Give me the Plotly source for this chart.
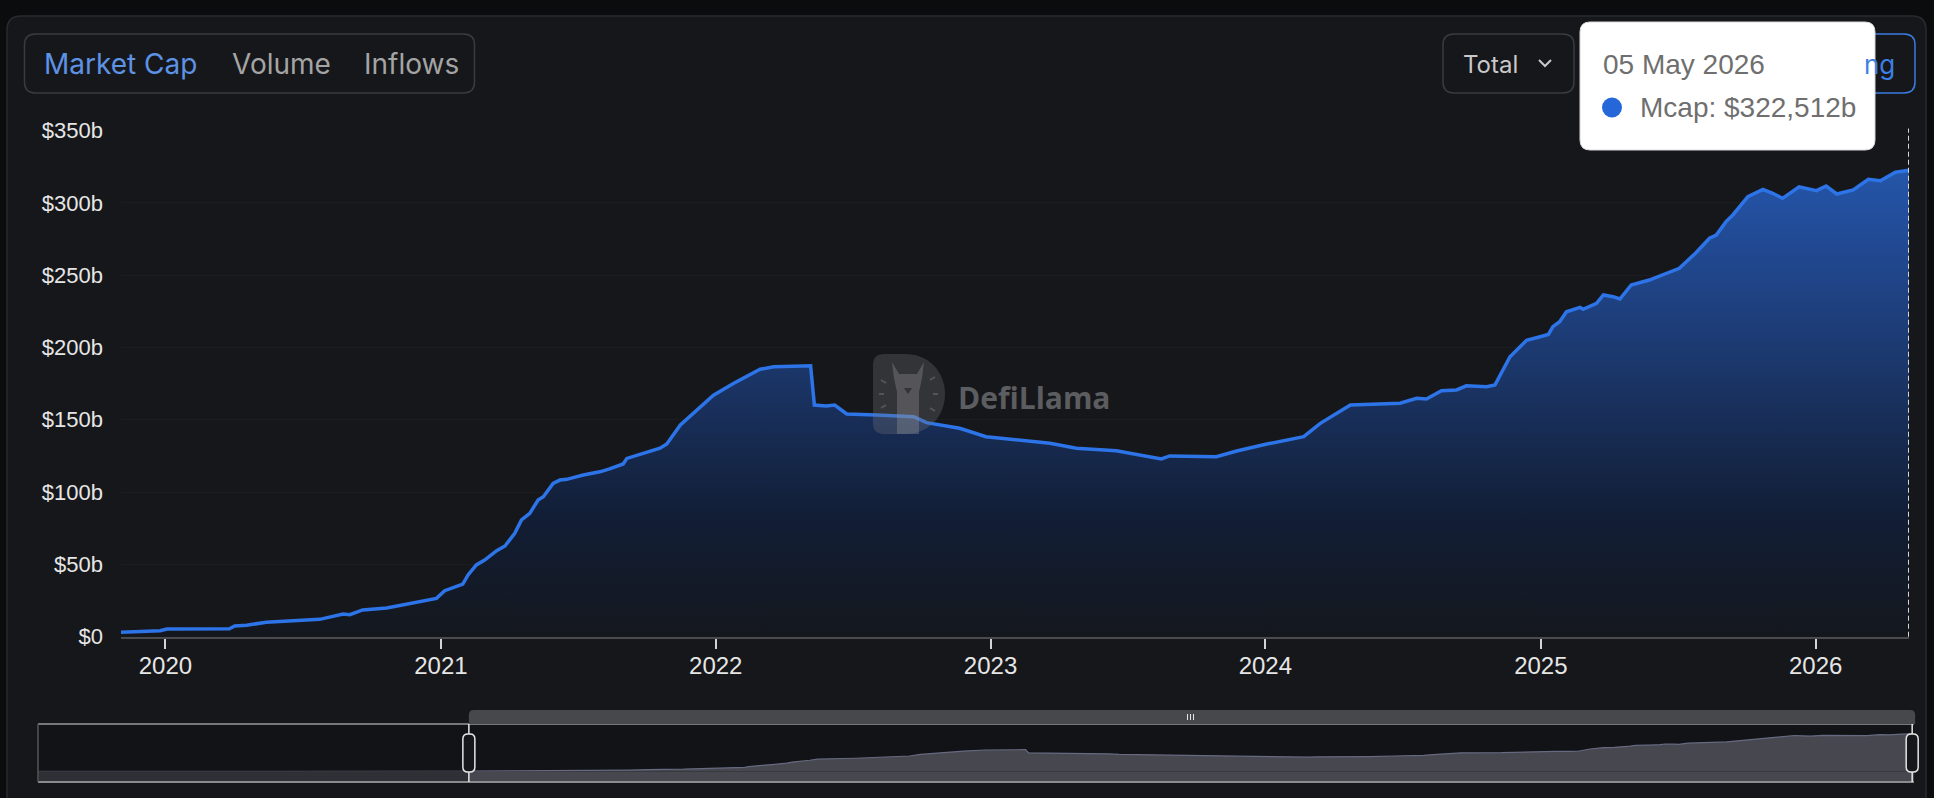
import plotly.graph_objects as go
import pandas as pd

W, H = 1934, 798

# ---------------- data (billions USD) ----------------
dates = [
    "2017-11-25", "2018-01-01", "2018-02-01", "2018-04-01", "2018-07-01", "2018-10-01",
    "2018-12-01", "2019-03-01", "2019-06-01", "2019-09-01",
    "2019-11-03", "2019-12-25", "2020-01-03", "2020-03-26", "2020-04-02", "2020-04-18",
    "2020-05-14", "2020-07-24", "2020-08-24", "2020-09-02", "2020-09-19", "2020-10-21",
    "2020-11-20", "2020-12-26", "2021-01-06", "2021-01-30", "2021-02-06", "2021-02-17",
    "2021-02-28", "2021-03-16", "2021-03-27", "2021-04-09", "2021-04-18", "2021-04-29",
    "2021-05-10", "2021-05-17", "2021-05-30", "2021-06-08", "2021-06-17", "2021-07-09",
    "2021-07-31", "2021-08-13", "2021-08-31", "2021-09-05", "2021-10-19", "2021-10-28",
    "2021-11-15", "2021-12-12", "2021-12-29", "2022-01-25", "2022-03-01", "2022-03-19",
    "2022-05-07", "2022-05-12", "2022-05-28", "2022-06-08", "2022-06-24", "2022-08-03",
    "2022-09-21", "2022-10-08", "2022-11-03", "2022-11-21", "2022-12-26", "2023-01-31",
    "2023-03-21", "2023-04-25", "2023-06-17", "2023-08-16", "2023-08-27", "2023-10-28",
    "2023-11-24", "2024-01-03", "2024-02-21", "2024-03-14", "2024-04-05", "2024-04-23",
    "2024-06-28", "2024-07-20", "2024-08-02", "2024-08-22", "2024-09-11", "2024-09-24",
    "2024-10-21", "2024-11-01", "2024-11-21", "2024-12-13", "2024-12-31", "2025-01-11",
    "2025-01-17", "2025-01-26", "2025-02-04", "2025-02-22", "2025-02-26", "2025-03-16",
    "2025-03-25", "2025-04-07", "2025-04-16", "2025-05-01", "2025-05-25", "2025-06-16",
    "2025-07-04", "2025-07-26", "2025-08-13", "2025-08-22", "2025-09-04", "2025-09-13",
    "2025-10-03", "2025-10-23", "2025-11-05", "2025-11-18", "2025-12-10", "2026-01-02",
    "2026-01-15", "2026-01-29", "2026-02-20", "2026-03-12", "2026-03-28", "2026-04-17",
    "2026-05-05",
]
mcap_b = [
    0.9, 1.4, 2.3, 2.6, 2.8, 2.9,
    2.4, 2.5, 2.8, 3.0,
    3.0, 4.1, 5.3, 5.5, 7.4, 7.9,
    10.0, 12.0, 15.7, 15.2, 18.5, 19.8,
    23.0, 26.5, 31.8, 36.4, 42.7, 49.6,
    53.0, 59.5, 62.7, 71.5, 80.7, 85.3,
    94.5, 96.8, 106.0, 108.3, 108.8, 111.8,
    114.0, 116.0, 119.4, 123.3, 130.3, 133.2,
    146.4, 159.0, 167.0, 175.2, 184.9, 186.7,
    187.4, 160.2, 159.5, 160.2, 154.0, 153.3,
    152.1, 148.0, 145.7, 144.1, 138.3, 136.5,
    133.7, 130.3, 128.6, 122.9, 125.0, 124.5,
    128.4, 133.2, 138.3, 147.5, 154.5, 160.2,
    161.4, 164.8, 164.3, 170.0, 170.6, 173.5,
    172.9, 174.0, 193.6, 205.0, 207.4, 209.0,
    214.4, 217.8, 224.7, 227.7, 226.4, 230.5,
    236.3, 235.1, 233.5, 243.2, 246.6, 251.3,
    254.7, 265.5, 275.5, 277.7, 287.0, 291.6,
    304.2, 309.3, 306.6, 303.1, 311.1, 308.4,
    311.6, 306.1, 308.9, 316.3, 315.3, 321.1,
    322.512,
]
y_tick_values = [0, 50, 100, 150, 200, 250, 300, 350]
y_tick_labels = ["$0", "$50b", "$100b", "$150b", "$200b", "$250b", "$300b", "$350b"]
tab_labels = ["Market Cap", "Volume", "Inflows"]
dropdown_label = "Total"
series_label = "Mcap"
brand = "DefiLlama"
view_start = "2019-11-03"   # brush selection start
mini_range = ["2017-11-24", "2026-05-08"]

# ---------------- helpers (pixel -> paper) ----------------
def fx(p):
    return p / W

def fy(p):
    return 1 - p / H

def rr_path(x0, y0, x1, y1, r, top_only=False):
    X = lambda v: f"{fx(v):.6f}"
    Y = lambda v: f"{fy(v):.6f}"
    if top_only:
        return (f"M {X(x0)},{Y(y1)} L {X(x0)},{Y(y0+r)} Q {X(x0)},{Y(y0)} {X(x0+r)},{Y(y0)} "
                f"L {X(x1-r)},{Y(y0)} Q {X(x1)},{Y(y0)} {X(x1)},{Y(y0+r)} L {X(x1)},{Y(y1)} Z")
    return (f"M {X(x0+r)},{Y(y0)} L {X(x1-r)},{Y(y0)} Q {X(x1)},{Y(y0)} {X(x1)},{Y(y0+r)} "
            f"L {X(x1)},{Y(y1-r)} Q {X(x1)},{Y(y1)} {X(x1-r)},{Y(y1)} L {X(x0+r)},{Y(y1)} "
            f"Q {X(x0)},{Y(y1)} {X(x0)},{Y(y1-r)} L {X(x0)},{Y(y0+r)} Q {X(x0)},{Y(y0)} {X(x0+r)},{Y(y0)} Z")

def poly_path(pts, close=True):
    s = "M " + " L ".join(f"{fx(x):.6f},{fy(y):.6f}" for x, y in pts)
    return s + (" Z" if close else "")

# layout geometry (pixels)
PL, PR, PT, PB = 121, 1909, 130.5, 636.7          # main plot
ML, MR, MT, MB = 38, 1914, 724, 782               # brush box

fig = go.Figure()

# main series
fig.add_trace(go.Scatter(
    x=dates, y=mcap_b, mode="lines", xaxis="x", yaxis="y",
    line=dict(color="#2d74e8", width=3.5),
    fill="tozeroy",
    fillgradient=dict(type="vertical", start=0, stop=max(mcap_b),
                      colorscale=[[0, "#14171d"], [0.26, "#121e36"], [0.47, "#182e58"],
                                  [0.65, "#1d3c76"], [0.93, "#2350a0"], [1, "#2556a8"]]),
    hoverinfo="skip", showlegend=False,
))
# brush shadow series
fig.add_trace(go.Scatter(
    x=dates, y=mcap_b, mode="lines", xaxis="x2", yaxis="y2",
    line=dict(color="#666a80", width=1.2),
    fill="tozeroy", fillcolor="#46474f",
    hoverinfo="skip", showlegend=False,
))

shapes = []
# card
shapes.append(dict(type="path", xref="paper", yref="paper", layer="below",
                   path=rr_path(7, 16, 1926, 860, 14),
                   fillcolor="#16171a", line=dict(color="#2a2b2f", width=1.5)))
# tab group box
shapes.append(dict(type="path", xref="paper", yref="paper", layer="below",
                   path=rr_path(24.5, 34, 474.5, 93, 11),
                   fillcolor="#16171a", line=dict(color="#3a3b40", width=1.5)))
# dropdown box
shapes.append(dict(type="path", xref="paper", yref="paper", layer="below",
                   path=rr_path(1443, 34, 1574, 93, 11),
                   fillcolor="#16171a", line=dict(color="#3a3b40", width=1.5)))
shapes.append(dict(type="path", xref="paper", yref="paper", layer="above",
                   path=poly_path([(1539, 60), (1545, 66), (1551, 60)], close=False),
                   line=dict(color="#c9c9c9", width=2)))
# blue button (partly hidden under tooltip)
shapes.append(dict(type="path", xref="paper", yref="paper", layer="above",
                   path=rr_path(1760, 34, 1915, 93, 11),
                   fillcolor="#16171a", line=dict(color="#3b7be0", width=1.5)))

# brush box background
shapes.append(dict(type="rect", xref="paper", yref="paper", layer="below",
                   x0=fx(ML), x1=fx(MR), y0=fy(MB), y1=fy(MT),
                   fillcolor="#121316", line=dict(width=0)))
# band below zero in brush
shapes.append(dict(type="rect", xref="x2", yref="y2", layer="above",
                   x0=dates[0], x1=mini_range[1], y0=-90, y1=0,
                   fillcolor="#46474f", line=dict(width=0)))

# pixel positions of brush handles from the axis mapping
t0, t1 = pd.Timestamp(mini_range[0]), pd.Timestamp(mini_range[1])
def mini_px(d):
    return ML + (pd.Timestamp(d) - t0) / (t1 - t0) * (MR - ML)
hL = mini_px(view_start)
hR = mini_px(dates[-1])

# unselected overlay
shapes.append(dict(type="rect", xref="paper", yref="paper", layer="above",
                   x0=fx(ML), x1=fx(hL), y0=fy(MB), y1=fy(MT),
                   fillcolor="rgba(18,19,22,0.45)", line=dict(width=0)))
# box borders
shapes.append(dict(type="line", xref="paper", yref="paper", layer="above",
                   x0=fx(ML), x1=fx(MR), y0=fy(MT), y1=fy(MT), line=dict(color="#76777b", width=2)))
shapes.append(dict(type="line", xref="paper", yref="paper", layer="above",
                   x0=fx(ML), x1=fx(MR), y0=fy(MB), y1=fy(MB), line=dict(color="#8a8b8f", width=2)))
shapes.append(dict(type="line", xref="paper", yref="paper", layer="above",
                   x0=fx(ML), x1=fx(ML), y0=fy(MB), y1=fy(MT), line=dict(color="#55565a", width=1.5)))
# top move bar
shapes.append(dict(type="path", xref="paper", yref="paper", layer="above",
                   path=rr_path(hL, 710, hR + 3, MT, 5, top_only=True),
                   fillcolor="#47484b", line=dict(width=0)))
cx = (hL + hR) / 2
for dx in (-3, 0, 3):
    shapes.append(dict(type="line", xref="paper", yref="paper", layer="above",
                       x0=fx(cx + dx), x1=fx(cx + dx), y0=fy(720), y1=fy(714),
                       line=dict(color="#e8e8e8", width=1)))
# handles
for hx in (hL, hR):
    shapes.append(dict(type="line", xref="paper", yref="paper", layer="above",
                       x0=fx(hx), x1=fx(hx), y0=fy(MB), y1=fy(MT),
                       line=dict(color="#e6e6e6", width=1.5)))
    shapes.append(dict(type="path", xref="paper", yref="paper", layer="above",
                       path=rr_path(hx - 6, 734, hx + 6, 772, 5),
                       fillcolor="#16171a", line=dict(color="#e6e6e6", width=1.5)))

# axis pointer (dashed) at last point
shapes.append(dict(type="line", xref="x", yref="paper", layer="above",
                   x0=dates[-1], x1=dates[-1], y0=fy(PB), y1=fy(PT - 2),
                   line=dict(color="#d6d6d6", width=2, dash="5px,3px")))

# watermark logo
shapes.append(dict(type="path", xref="paper", yref="paper", layer="above",
                   path=(f"M {fx(884):.6f},{fy(354):.6f} L {fx(905):.6f},{fy(354):.6f} "
                         f"C {fx(929):.6f},{fy(354):.6f} {fx(945):.6f},{fy(372):.6f} {fx(945):.6f},{fy(394):.6f} "
                         f"C {fx(945):.6f},{fy(416):.6f} {fx(929):.6f},{fy(434):.6f} {fx(905):.6f},{fy(434):.6f} "
                         f"L {fx(884):.6f},{fy(434):.6f} Q {fx(873):.6f},{fy(434):.6f} {fx(873):.6f},{fy(423):.6f} "
                         f"L {fx(873):.6f},{fy(365):.6f} Q {fx(873):.6f},{fy(354):.6f} {fx(884):.6f},{fy(354):.6f} Z"),
                   fillcolor="rgba(120,120,124,0.30)", line=dict(width=0)))
shapes.append(dict(type="path", xref="paper", yref="paper", layer="above",
                   path=poly_path([(892, 362), (899, 374), (917, 374), (924, 362), (922, 378),
                                   (919, 392), (919, 434), (897, 434), (897, 392), (894, 378)]),
                   fillcolor="rgba(150,150,154,0.35)", line=dict(width=0)))
shapes.append(dict(type="path", xref="paper", yref="paper", layer="above",
                   path=poly_path([(904, 388), (912, 388), (908, 394)]),
                   fillcolor="rgba(30,30,32,0.6)", line=dict(width=0)))
for (a, b, c, d) in [(881, 380, 886, 383), (879, 394, 884, 394), (881, 408, 886, 405),
                     (930, 380, 935, 377), (933, 394, 938, 394), (930, 408, 935, 411)]:
    shapes.append(dict(type="line", xref="paper", yref="paper", layer="above",
                       x0=fx(a), y0=fy(b), x1=fx(c), y1=fy(d),
                       line=dict(color="rgba(150,150,154,0.35)", width=2)))

# tooltip
shapes.append(dict(type="path", xref="paper", yref="paper", layer="above",
                   path=rr_path(1580, 22, 1875, 150, 10),
                   fillcolor="#ffffff", line=dict(color="#d8d8d8", width=1)))
shapes.append(dict(type="circle", xref="paper", yref="paper", layer="above",
                   x0=fx(1602), x1=fx(1622), y0=fy(117.5), y1=fy(97.5),
                   fillcolor="#2567d9", line=dict(width=0)))

annotations = []
tab_x = [42, 230, 362]
tab_col = ["#5d92e4", "#a4a4a4", "#a4a4a4"]
for lab, x, c in zip(tab_labels, tab_x, tab_col):
    annotations.append(dict(text=lab, x=fx(x), y=fy(64), xref="paper", yref="paper",
                            xanchor="left", yanchor="middle", showarrow=False,
                            font=dict(family="Inter", size=28, color=c)))
annotations.append(dict(text=dropdown_label, x=fx(1461), y=fy(64), xref="paper", yref="paper",
                        xanchor="left", yanchor="middle", showarrow=False,
                        font=dict(family="Inter", size=24, color="#c9c9c9")))
annotations.append(dict(text="ng", x=fx(1897), y=fy(64), xref="paper", yref="paper",
                        xanchor="right", yanchor="middle", showarrow=False,
                        font=dict(family="Inter", size=26, color="#3d7fe3")))
last_date = pd.Timestamp(dates[-1]).strftime("%d %b %Y")
last_val = f"{mcap_b[-1]:.3f}".replace(".", ",")
annotations.append(dict(text=last_date, x=fx(1601), y=fy(65), xref="paper", yref="paper",
                        xanchor="left", yanchor="middle", showarrow=False,
                        font=dict(family="Liberation Sans, Arial", size=28, color="#6f6f6f")))
annotations.append(dict(text=f"{series_label}: ${last_val}b", x=fx(1638), y=fy(107),
                        xref="paper", yref="paper", xanchor="left", yanchor="middle", showarrow=False,
                        font=dict(family="Liberation Sans, Arial", size=28, color="#6f6f6f")))
annotations.append(dict(text=f"<b>{brand}</b>", x=fx(956), y=fy(397), xref="paper", yref="paper",
                        xanchor="left", yanchor="middle", showarrow=False,
                        font=dict(family="Open Sans", size=30, color="#5c5d60")))

fig.update_layout(
    width=W, height=H, autosize=False,
    margin=dict(l=0, r=0, t=0, b=0, pad=0, autoexpand=False),
    paper_bgcolor="#0b0c0e", plot_bgcolor="rgba(0,0,0,0)",
    font=dict(family="Liberation Sans, Arial", color="#e6e6e6"),
    showlegend=False,
    xaxis=dict(domain=[fx(PL), fx(PR)], anchor="y", type="date", automargin=False,
               range=[view_start, dates[-1]],
               showgrid=False, zeroline=False,
               showline=True, linecolor="#4a4b4f", linewidth=2,
               ticks="outside", ticklen=10, tickwidth=2, tickcolor="#d4d4d4",
               dtick="M12", tick0="2020-01-01", tickformat="%Y",
               ticklabelstandoff=-4,
               tickfont=dict(size=24, color="#e6e6e6")),
    yaxis=dict(domain=[fy(PB), fy(PT)], anchor="x", range=[0, 350], automargin=False,
               tickvals=y_tick_values, ticktext=y_tick_labels,
               showgrid=True, gridcolor="#1c1d21", gridwidth=1,
               zeroline=False, showline=False, ticks="",
               ticklabelstandoff=17,
               tickfont=dict(size=22, color="#e6e6e6")),
    xaxis2=dict(domain=[fx(ML), fx(MR)], anchor="y2", type="date", automargin=False,
                range=mini_range, visible=False),
    yaxis2=dict(domain=[fy(MB), fy(MT)], anchor="x2", range=[-90, 408], automargin=False,
                visible=False),
    shapes=shapes,
    annotations=annotations,
)

fig.write_html(
    "out.html",
    config={"displayModeBar": False},
    post_script="document.body.style.margin='0';document.body.style.background='#0b0c0e';",
)
